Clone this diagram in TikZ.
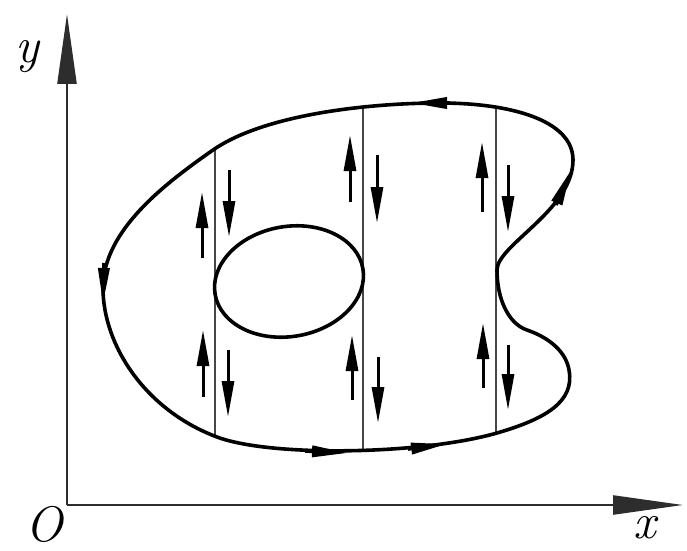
\documentclass[tikz,border=0pt]{standalone}
\usepackage{amsmath,amssymb}
\usepackage{tikz}
\usetikzlibrary{arrows.meta}
\definecolor{grisEje}{RGB}{45,45,45}
\definecolor{grisCorte}{RGB}{70,70,70}
% Contorno exterior (sentido antihorario)
\newcommand{\contorno}{(103,262) .. controls (103,205) and (145,140) .. (217,113)
  .. controls (270,93) and (420,95) .. (497,117)
  .. controls (545,131) and (575,148) .. (569,180)
  .. controls (566,198) and (550,212) .. (527,220)
  .. controls (509,226) and (497,250) .. (497,280)
  .. controls (497,305) and (573,340) .. (573,390)
  .. controls (573,430) and (510,447) .. (440,447)
  .. controls (370,447) and (265,436) .. (213,400)
  .. controls (166,367) and (103,320) .. cycle}

\begin{document}
\begin{tikzpicture}[x=1pt, y=1pt,
  eje/.style={line width=2.4pt, draw=grisEje, -{Triangle[length=70pt,width=19pt]}},
  borde/.style={line width=3.6pt},
  corte/.style={line width=1.6pt, draw=grisCorte},
  flujo/.style={line width=3pt, -{Triangle[length=36pt,width=12pt]}},
  punta/.style={line width=3.6pt, -{Triangle[length=36pt,width=11pt]}},
  etiqueta/.style={font=\fontsize{50}{54}\selectfont\itshape, inner sep=0pt}]
  \useasboundingbox (0,0) rectangle (687,550);
  % Ejes
  \coordinate (O) at (67,45);
  \coordinate (finY) at (67,536);
  \coordinate (finX) at (683,45);
  \draw[eje] (O) -- (finY);
  \draw[eje] (O) -- (finX);
  \node[etiqueta] (ejeY) at (27,493) {y};
  \node[etiqueta] (origen) at (44,26) {O};
  \node[etiqueta] (ejeX) at (645,22) {x};
  % Cortes verticales
  \begin{scope}
    \clip \contorno;
    \draw[corte] (215,0) -- (215,550);
    \draw[corte] (363,0) -- (363,550);
    \draw[corte] (496,0) -- (496,550);
  \end{scope}
  % Contorno exterior y agujero
  \draw[borde] \contorno;
  \draw[borde, rotate around={10:(289,268.5)}] (289,268.5) ellipse (75pt and 55pt);
  % Sentido del contorno
  \draw[punta] (104,287) -- (103,246);
  \draw[punta] (305,99) -- (348,97);
  \draw[punta] (408,101) -- (447,106);
  \draw[punta] (556,345) -- (571,380);
  \draw[punta] (450,447) -- (411,447);
  % Flechas junto al corte 1
  \draw[flujo] (202,292) -- (202,358);
  \draw[flujo] (229,380) -- (229,313);
  \draw[flujo] (203,153) -- (203,220);
  \draw[flujo] (228,200) -- (228,133);
  % Flechas junto al corte 2
  \draw[flujo] (350,348) -- (350,415);
  \draw[flujo] (377,395) -- (377,327);
  \draw[flujo] (352,150) -- (352,215);
  \draw[flujo] (378,193) -- (378,127);
  % Flechas junto al corte 3
  \draw[flujo] (482,338) -- (482,408);
  \draw[flujo] (508,385) -- (508,318);
  \draw[flujo] (483,162) -- (483,227);
  \draw[flujo] (508,205) -- (508,140);
\end{tikzpicture}
\end{document}
